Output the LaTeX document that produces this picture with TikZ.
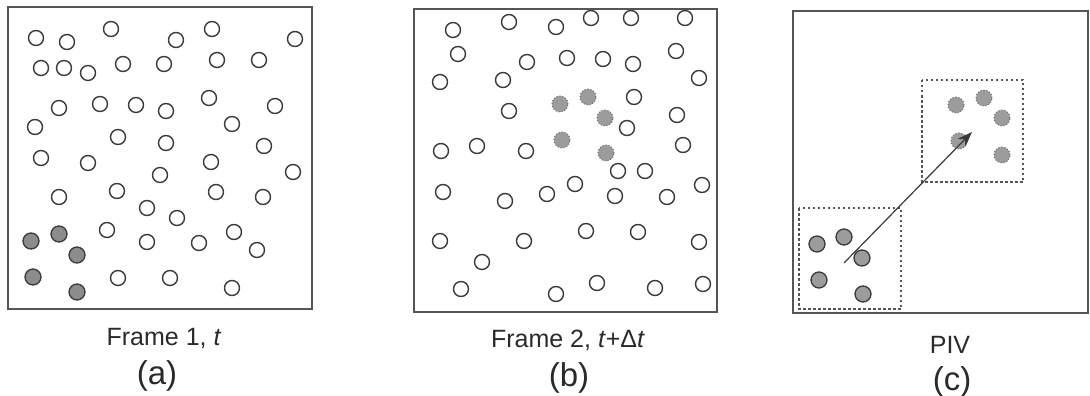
\documentclass[tikz,border=0pt]{standalone}
\usepackage{fontspec}
\setmainfont{Liberation Sans}
\usetikzlibrary{arrows.meta}
\definecolor{edge}{HTML}{555555}
\definecolor{ring}{HTML}{3A3A3A}
\definecolor{seedA}{HTML}{8C8C8C}
\definecolor{seedB}{HTML}{9C9C9C}
\definecolor{txt}{HTML}{2A2A2A}
\tikzset{
  framebox/.style={draw=edge, line width=2pt},
  winbox/.style={draw=edge, line width=1.3pt, dash pattern=on 2.5pt off 2.5pt},
  open/.style={circle, draw=ring, fill=white, line width=1.4pt, minimum size=15pt, inner sep=0pt},
  seed/.style={circle, draw=ring, fill=seedA, line width=1.3pt, minimum size=16pt, inner sep=0pt},
  moved/.style={circle, draw=gray!80!black, fill=seedB, line width=1pt, dotted, minimum size=16pt, inner sep=0pt},
  caption/.style={anchor=base, text=txt, inner sep=0pt, font=\fontsize{25}{28}\selectfont},
  tag/.style={anchor=base, text=txt, inner sep=0pt, font=\fontsize{33}{36}\selectfont},
}
\begin{document}
\begin{tikzpicture}[x=1pt, y=-1pt]
\useasboundingbox (0,0) rectangle (1090,396);

% ---- frame (a): first exposure ----
\draw[framebox] (8,7) rectangle (312,309);
\foreach \px/\py [count=\i] in {36/38,67/42,111/29,176/40,212/29,295/39,
  41/68,64/68,88/73,123/64,164/64,217/60,259/60,
  59/108,100/104,136/105,166/111,209/98,275/106,
  35/127,232/124,118/137,166/143,264/146,
  41/158,88/163,211/162,160/175,293/172,
  59/197,117/191,216/192,263/197,147/208,177/218,
  107/230,234/232,147/242,199/243,257/250,
  118/278,170/278,232/288}
  \node[open] (a\i) at (\px,\py) {};
\foreach \px/\py [count=\i] in {31/241,59/234,77/255,33/277,77/292}
  \node[seed] (as\i) at (\px,\py) {};
\node[caption] (capA) at (164,345) {Frame 1, \textit{t}};
\node[tag] (tagA) at (157,384) {(a)};

% ---- frame (b): second exposure ----
\draw[framebox] (414,9) rectangle (717,312);
\foreach \px/\py [count=\i] in {453/30,509/22,556/27,591/18,631/18,685/18,
  458/54,527/62,567/58,603/59,633/64,676/51,
  440/82,503/80,699/78,
  634/97,509/111,677/115,627/128,
  441/151,477/146,526/151,683/145,
  618/171,645/171,443/192,505/201,547/194,575/184,615/196,667/197,702/185,
  440/241,524/241,586/231,638/232,699/242,
  482/262,461/289,556/294,597/283,655/288,703/284}
  \node[open] (b\i) at (\px,\py) {};
\foreach \px/\py [count=\i] in {560/104,588/97,605/118,562/140,606/153}
  \node[moved] (bs\i) at (\px,\py) {};
\node[caption] (capB) at (568,347) {Frame 2, \textit{t}+Δ\textit{t}};
\node[tag] (tagB) at (569,386) {(b)};

% ---- frame (c): interrogation windows and displacement ----
\draw[framebox] (793,11) rectangle (1088,313);
\draw[winbox] (922,80) rectangle (1023,182);
\draw[winbox] (799,208) rectangle (901,309);
\foreach \px/\py [count=\i] in {817/244,844/237,862/258,819/280,863/294}
  \node[seed, fill=seedB] (c\i) at (\px,\py) {};
\foreach \px/\py [count=\i] in {956/105,984/98,1002/118,959/141,1002/155}
  \node[moved] (cs\i) at (\px,\py) {};
\coordinate (from) at (844,263);
\coordinate (to) at (972,132);
\draw[ring, line width=1.2pt, -{Stealth[length=15pt,width=11pt]}] (from) -- (to);
\node[caption] (capC) at (950,353) {PIV};
\node[tag] (tagC) at (952,390) {(c)};
\end{tikzpicture}
\end{document}
